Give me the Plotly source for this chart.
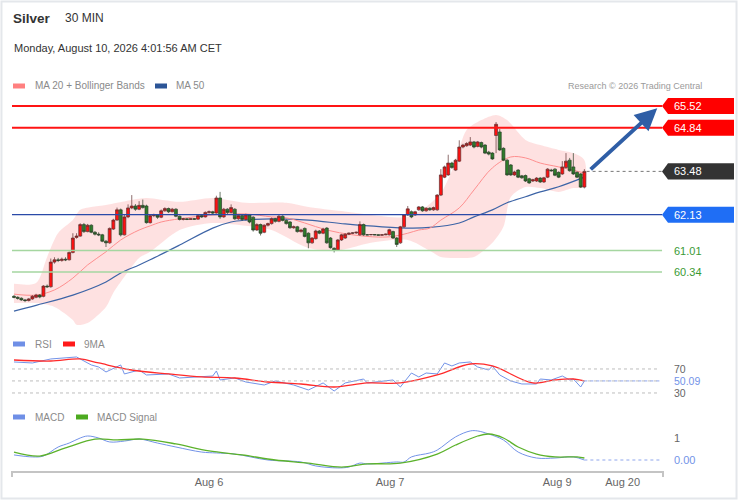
import plotly.graph_objects as go

W, H = 738, 500

# ---------------- podatki: 30-min svece (indeks 0..155) ----------------
open_ = [59.58, 59.55, 59.52, 59.47, 59.45, 59.50, 59.55, 59.62, 59.58, 59.90,
         59.88, 60.65, 60.72, 60.70, 60.74, 60.72, 60.95, 61.42, 61.46, 61.82,
         61.60, 61.80, 61.58, 61.52, 61.50, 61.30, 61.25, 61.68, 61.96, 62.28,
         61.50, 62.06, 62.34, 62.40, 62.30, 62.42, 62.40, 61.88, 62.10, 62.12,
         62.05, 62.25, 62.32, 62.22, 62.30, 62.08, 61.98, 62.00, 61.98, 62.00,
         61.99, 62.10, 62.06, 62.20, 62.22, 62.18, 62.65, 62.06, 62.30, 62.20,
         62.30, 62.00, 62.10, 61.98, 62.12, 62.05, 61.65, 61.82, 61.58, 61.80,
         61.85, 62.00, 61.92, 62.08, 61.95, 61.90, 61.72, 61.75, 61.60, 61.70,
         61.55, 61.25, 61.38, 61.62, 61.55, 61.71, 61.40, 61.08, 61.03, 61.34,
         61.40, 61.52, 61.55, 61.56, 61.50, 61.82, 61.50, 61.50, 61.51, 61.50,
         61.49, 61.50, 61.50, 61.60, 61.40, 61.25, 61.75, 62.12, 62.22, 62.12,
         62.28, 62.37, 62.25, 62.33, 62.28, 62.28, 62.74, 63.30, 63.37, 63.74,
         63.52, 63.80, 64.24, 64.28, 64.30, 64.40, 64.26, 64.38, 64.30, 64.08,
         64.05, 64.60, 64.71, 64.20, 63.83, 63.68, 63.37, 63.52, 63.34, 63.35,
         63.25, 63.18, 63.18, 63.27, 63.15, 63.30, 63.52, 63.55, 63.45, 63.40,
         63.60, 63.83, 63.62, 63.45, 63.40, 62.99]
high = [59.62, 59.58, 59.55, 59.50, 59.53, 59.62, 59.66, 59.65, 59.93, 59.95,
        60.76, 60.80, 60.78, 60.79, 60.80, 60.98, 61.55, 61.55, 61.86, 61.87,
        61.84, 61.83, 61.62, 61.58, 61.53, 61.34, 61.73, 62.00, 62.35, 62.32,
        62.15, 62.45, 62.74, 62.46, 62.55, 62.60, 62.44, 62.14, 62.16, 62.15,
        62.29, 62.36, 62.35, 62.34, 62.33, 62.10, 62.03, 62.02, 62.01, 62.02,
        62.13, 62.14, 62.23, 62.26, 62.25, 62.72, 62.84, 62.34, 62.33, 62.45,
        62.33, 62.14, 62.13, 62.16, 62.15, 62.08, 61.86, 61.85, 61.83, 61.88,
        62.04, 62.03, 62.12, 62.11, 61.98, 61.93, 61.79, 61.78, 61.69, 61.73,
        61.58, 61.43, 61.66, 61.65, 61.72, 61.74, 61.43, 61.11, 61.37, 61.53,
        61.55, 61.57, 61.58, 61.60, 61.92, 61.85, 61.52, 61.52, 61.52, 61.51,
        61.52, 61.54, 61.69, 61.63, 61.43, 61.78, 62.15, 62.40, 62.26, 62.25,
        62.40, 62.40, 62.36, 62.36, 62.38, 62.77, 63.55, 63.66, 64.00, 63.78,
        63.87, 64.45, 64.34, 64.39, 64.55, 64.43, 64.43, 64.41, 64.33, 64.12,
        64.08, 65.02, 64.80, 64.23, 63.86, 63.71, 63.50, 63.55, 63.37, 63.38,
        63.28, 63.25, 63.30, 63.30, 63.31, 63.58, 63.56, 63.58, 63.48, 63.80,
        64.05, 63.90, 64.05, 63.48, 63.43, 63.55]
low = [59.52, 59.48, 59.44, 59.40, 59.42, 59.47, 59.52, 59.52, 59.55, 59.84,
       59.85, 60.60, 60.65, 60.66, 60.68, 60.70, 60.92, 61.38, 61.44, 61.56,
       61.58, 61.55, 61.48, 61.46, 61.27, 61.12, 61.22, 61.65, 61.94, 61.45,
       61.48, 62.02, 62.30, 62.25, 62.27, 62.32, 61.85, 61.85, 62.05, 62.00,
       62.02, 62.22, 62.18, 62.20, 62.05, 61.95, 61.95, 61.96, 61.97, 61.97,
       61.97, 62.03, 62.04, 62.16, 62.14, 62.16, 62.00, 62.03, 62.15, 62.17,
       61.97, 61.97, 61.94, 61.95, 61.86, 61.60, 61.62, 61.48, 61.55, 61.76,
       61.82, 61.88, 61.89, 61.92, 61.82, 61.69, 61.69, 61.57, 61.57, 61.42,
       61.08, 61.22, 61.35, 61.52, 61.52, 61.22, 61.07, 60.95, 61.00, 61.31,
       61.37, 61.49, 61.52, 61.53, 61.47, 61.47, 61.49, 61.49, 61.49, 61.48,
       61.48, 61.49, 61.48, 61.37, 61.12, 61.22, 61.72, 62.09, 62.02, 62.09,
       62.25, 62.22, 62.22, 62.25, 62.25, 62.25, 62.71, 63.27, 63.34, 63.56,
       63.49, 63.77, 64.20, 64.25, 64.27, 64.20, 64.23, 64.20, 64.02, 63.98,
       63.84, 64.05, 64.12, 63.80, 63.34, 63.34, 63.34, 63.27, 63.25, 63.15,
       63.09, 63.15, 63.15, 63.12, 63.12, 63.27, 63.47, 63.33, 63.27, 63.37,
       63.57, 63.47, 63.37, 63.27, 62.96, 62.95]
close = [59.55, 59.52, 59.47, 59.45, 59.50, 59.58, 59.62, 59.56, 59.90, 59.88,
         60.65, 60.72, 60.70, 60.74, 60.72, 60.95, 61.40, 61.46, 61.82, 61.60,
         61.80, 61.58, 61.52, 61.50, 61.30, 61.25, 61.70, 61.96, 62.28, 61.50,
         62.06, 62.34, 62.40, 62.30, 62.42, 62.35, 61.88, 62.10, 62.12, 62.05,
         62.25, 62.32, 62.22, 62.30, 62.08, 61.98, 62.00, 61.98, 62.00, 61.99,
         62.10, 62.06, 62.20, 62.22, 62.18, 62.65, 62.06, 62.30, 62.20, 62.35,
         62.00, 62.10, 61.98, 62.12, 61.90, 61.65, 61.82, 61.55, 61.80, 61.85,
         62.00, 61.92, 62.08, 61.95, 61.85, 61.72, 61.75, 61.60, 61.65, 61.45,
         61.25, 61.40, 61.62, 61.55, 61.68, 61.25, 61.10, 61.02, 61.34, 61.50,
         61.52, 61.55, 61.56, 61.58, 61.82, 61.50, 61.50, 61.51, 61.50, 61.49,
         61.50, 61.52, 61.66, 61.40, 61.20, 61.75, 62.12, 62.31, 62.06, 62.22,
         62.37, 62.25, 62.33, 62.28, 62.35, 62.74, 63.37, 63.62, 63.74, 63.60,
         63.83, 64.24, 64.30, 64.35, 64.40, 64.24, 64.40, 64.24, 64.05, 64.02,
         63.87, 64.95, 64.15, 63.83, 63.37, 63.37, 63.46, 63.30, 63.28, 63.18,
         63.12, 63.22, 63.27, 63.15, 63.28, 63.55, 63.50, 63.36, 63.30, 63.62,
         63.80, 63.50, 63.40, 63.30, 62.99, 63.48]
candle_idx = list(range(len(close)))

# drseci povprecji in Bollinger (odcitano na vzorcnih svecah)
ma20_idx = [0, 6, 11, 16, 20, 25, 29, 34, 37, 40, 45, 54, 63, 70, 74, 79, 85, 92,
            99, 103, 107, 110, 113, 116, 121, 125, 130, 135, 139, 143, 148, 155]
ma20 = [59.65, 59.62, 59.78, 60.15, 60.56, 60.97, 61.34, 61.65, 61.78, 61.90, 62.00,
        62.12, 62.15, 62.06, 62.03, 61.87, 61.65, 61.50, 61.43, 61.45, 61.55, 61.65,
        61.71, 61.96, 62.34, 62.90, 63.59, 63.93, 63.90, 63.74, 63.62, 63.43]
ma50_idx = [0, 6, 16, 25, 29, 34, 37, 45, 54, 59, 63, 70, 80, 90, 100, 108, 113,
            121, 125, 130, 134, 139, 143, 148, 155]
ma50 = [59.12, 59.30, 59.62, 60.03, 60.31, 60.56, 60.72, 61.18, 61.71, 61.90, 61.96,
        62.00, 61.96, 61.84, 61.75, 61.71, 61.73, 61.87, 62.06, 62.28, 62.50, 62.69,
        62.84, 63.00, 63.30]
bb_up_idx = [0, 6, 9, 12, 16, 18, 21, 25, 28, 32, 36, 45, 54, 63, 74, 80, 89, 97,
             107, 112, 116, 119, 121, 123, 127, 131, 134, 139, 143, 148, 152, 155]
bb_up = [59.97, 60.00, 60.81, 61.56, 61.96, 62.28, 62.37, 62.43, 62.50, 62.59, 62.65,
         62.53, 62.65, 62.50, 62.50, 62.37, 62.24, 62.12, 62.06, 62.37, 62.81, 63.50,
         64.20, 64.77, 65.08, 65.24, 65.08, 64.46, 64.30, 64.15, 64.05, 63.83]
bb_lo_idx = [0, 6, 11, 16, 17, 20, 25, 27, 30, 34, 37, 45, 54, 63, 70, 80, 89, 97,
             107, 113, 116, 121, 125, 130, 133, 135, 139, 143, 148, 152, 155]
bb_lo = [59.37, 59.37, 59.25, 58.84, 58.69, 58.75, 59.25, 59.69, 60.19, 60.78, 60.97,
         61.65, 61.87, 61.78, 61.65, 61.09, 61.03, 61.25, 61.34, 61.00, 60.81, 60.78,
         60.81, 61.25, 61.75, 62.68, 62.99, 62.96, 62.84, 62.96, 62.99]

# RSI in 9MA
rsi_idx = [0, 5, 10, 17, 21, 23, 25, 29, 30, 34, 36, 42, 45, 51, 54, 55, 56, 60, 63,
           68, 71, 76, 80, 84, 87, 90, 95, 96, 103, 105, 108, 110, 112, 115, 117, 119,
           121, 124, 126, 129, 130, 132, 135, 138, 142, 143, 146, 149, 151, 152, 154, 155]
rsi = [81.7, 80.0, 86.7, 90.0, 76.7, 73.3, 65.0, 76.7, 61.7, 68.3, 60.0, 61.7, 55.0,
       56.7, 58.3, 66.7, 51.7, 55.0, 48.3, 43.3, 50.0, 43.3, 35.0, 46.7, 33.3, 46.7,
       53.3, 46.7, 51.7, 40.0, 63.3, 56.7, 63.3, 61.7, 80.0, 75.0, 80.0, 81.7, 73.3,
       68.3, 75.0, 60.0, 50.0, 45.0, 45.0, 53.3, 51.7, 58.3, 51.7, 53.3, 40.0, 50.09]
rsi_ma_idx = [0, 10, 18, 23, 32, 42, 51, 60, 69, 78, 87, 96, 105, 115, 124, 130,
              141, 147, 152, 155]
rsi_ma = [85.0, 83.3, 86.7, 80.0, 68.3, 61.7, 56.7, 55.0, 48.3, 45.0, 40.0, 46.7,
          46.7, 60.0, 78.3, 75.0, 46.7, 51.7, 53.3, 50.0]

# MACD in signal
macd_idx = [0, 5, 8, 12, 15, 18, 20, 23, 26, 30, 34, 39, 44, 51, 55, 60, 69, 78, 82,
            88, 91, 94, 96, 104, 106, 108, 113, 115, 120, 124, 126, 129, 133, 137, 142,
            147, 152, 155]
macd = [0.23, 0.14, 0.18, 0.59, 0.77, 1.00, 1.09, 1.00, 0.82, 0.86, 0.95, 0.77, 0.59,
        0.36, 0.32, 0.27, 0.00, -0.09, -0.27, -0.36, -0.32, -0.14, -0.18, -0.09, -0.09,
        0.14, 0.32, 0.45, 1.05, 1.32, 1.32, 1.18, 0.91, 0.36, 0.09, 0.09, 0.14, 0.00]
sig_idx = [0, 7, 14, 22, 28, 35, 44, 53, 62, 71, 80, 89, 96, 105, 115, 120, 126, 129,
           133, 137, 142, 147, 153, 155]
sig = [0.36, 0.18, 0.55, 0.95, 0.91, 0.95, 0.73, 0.41, 0.23, 0.00, -0.14, -0.32, -0.18,
       -0.14, 0.27, 0.68, 1.09, 1.18, 1.00, 0.59, 0.27, 0.14, 0.14, 0.09]

# nivoji
resist = [65.52, 64.84]
pivot = 62.13
support = [61.01, 60.34]
last_price = 63.48
target_from = (156.3, 63.5)
target_to = (174.8, 65.45)
rsi_lines = [70, 30]
rsi_last = 50.09
macd_mark = 1
macd_last = 0.00

tick_idx = [53, 102.2, 147.6, 165.4]
tick_txt = ["Aug 6", "Aug 7", "Aug 9", "Aug 20"]


def px(x):
    return x / W


def py(y):
    return 1 - y / H


FONT = "Liberation Sans, Arial, sans-serif"
X_LEFT, X_END, X_LINE = -0.54, 176.36, 176.1
PRICE_RANGE = [58.53, 65.77]

fig = go.Figure()

# bollinger pas
fig.add_trace(go.Scatter(
    x=bb_up_idx + bb_lo_idx[::-1], y=bb_up + bb_lo[::-1],
    fill="toself", fillcolor="rgba(253,205,205,0.6)",
    line=dict(width=0, shape="spline", smoothing=0.8), hoverinfo="skip"
))
fig.add_trace(go.Scatter(x=ma50_idx, y=ma50, mode="lines",
                         line=dict(color="#3d64a6", width=1.2, shape="spline")))
fig.add_trace(go.Scatter(x=ma20_idx, y=ma20, mode="lines",
                         line=dict(color="#ff8f8f", width=1, shape="spline")))

# svece (rdece = rast, zelene = padec) - na prekrivni osi, da so nad pasom
fig.add_trace(go.Candlestick(
    x=candle_idx, open=open_, high=high, low=low, close=close, yaxis="y4",
    increasing=dict(fillcolor="#ff1010", line=dict(color="#5e3030", width=0.7)),
    decreasing=dict(fillcolor="#2e7d2a", line=dict(color="#2b3f29", width=0.7)),
    whiskerwidth=0
))

# RSI
fig.add_trace(go.Scatter(x=rsi_idx, y=rsi, mode="lines", yaxis="y2",
                         line=dict(color="#7393e8", width=1)))
fig.add_trace(go.Scatter(x=rsi_ma_idx, y=rsi_ma, mode="lines", yaxis="y2",
                         line=dict(color="#ff2a2a", width=1.3, shape="spline")))

# MACD
fig.add_trace(go.Scatter(x=macd_idx, y=macd, mode="lines", yaxis="y3",
                         line=dict(color="#7393e8", width=1, shape="spline")))
fig.add_trace(go.Scatter(x=sig_idx, y=sig, mode="lines", yaxis="y3",
                         line=dict(color="#5cb22b", width=1.3, shape="spline")))

shapes = []
ann = []


def text(x, y, s, size=11, color="#666", anchor="left", yref="paper"):
    ann.append(dict(x=x, y=y, xref="paper", yref=yref, text=s, showarrow=False,
                    xanchor=anchor, yanchor="middle", font=dict(color=color, size=size)))


# horizontalne crte
for v in resist:
    shapes.append(dict(type="line", xref="x", yref="y", x0=X_LEFT, x1=X_LINE, y0=v, y1=v,
                       line=dict(color="#ff1414", width=2)))
shapes.append(dict(type="line", xref="x", yref="y", x0=X_LEFT, x1=X_LINE, y0=pivot, y1=pivot,
                   line=dict(color="#2a4aa8", width=1.2)))
for v in support:
    shapes.append(dict(type="line", xref="x", yref="y", x0=X_LEFT, x1=X_LINE, y0=v, y1=v,
                       line=dict(color="#a5d6a0", width=1.5)))
shapes.append(dict(type="line", xref="x", yref="y", x0=candle_idx[-1] + 0.6, x1=X_LINE,
                   y0=last_price, y1=last_price, line=dict(color="#777", width=1, dash="dot")))

# oznake cen z zasiljenim robom
hh = 0.25
tip, xl, xr = px(662), px(668), px(734)
box_items = [(resist[0], "#ff0000"), (resist[1], "#ff0000"),
             (last_price, "#333333"), (pivot, "#1f6ef5")]
for v, col in box_items:
    shapes.append(dict(type="path", xref="paper", yref="y", fillcolor=col, line=dict(width=0),
                       path=f"M {tip},{v} L {xl},{v + hh} L {xr},{v + hh} L {xr},{v - hh} L {xl},{v - hh} Z"))
    text(px(672), v, f"{v:.2f}", color="white", yref="y")
for v in support:
    text(px(672), v, f"{v:.2f}", color="#3a9a34", yref="y")

# puscica proti cilju
ann.append(dict(x=target_to[0], y=target_to[1], ax=target_from[0], ay=target_from[1],
                xref="x", yref="y", axref="x", ayref="y", text="", showarrow=True,
                arrowhead=2, arrowsize=1.1, arrowwidth=4, arrowcolor="#2f5ea6"))

# RSI crte
for v in rsi_lines + [rsi_last]:
    shapes.append(dict(type="line", xref="x", yref="y2", x0=X_LEFT, x1=175.5, y0=v, y1=v,
                       line=dict(color="#bdbdbd", width=1, dash="dot")))
for v in rsi_lines:
    text(px(672), v, f"{v:g}", size=10.5, yref="y2")
text(px(672), rsi_last, f"{rsi_last:.2f}", size=10.5, color="#7393e8", yref="y2")
shapes.append(dict(type="line", xref="x", yref="y2", x0=rsi_idx[-1], x1=175.5, y0=rsi_last, y1=rsi_last,
                   line=dict(color="#8fa6ec", width=1, dash="dot")))

# MACD oznake
shapes.append(dict(type="line", xref="x", yref="y3", x0=macd_idx[-1], x1=175.5, y0=macd_last, y1=macd_last,
                   line=dict(color="#8fa6ec", width=1, dash="dot")))
text(px(672), macd_mark, str(macd_mark), yref="y3")
text(px(672), macd_last, f"{macd_last:.2f}", color="#7393e8", yref="y3")

# konci x osi
for xe in (0, 1):
    shapes.append(dict(type="line", xref="x domain", yref="paper", x0=xe, x1=xe,
                       y0=py(471), y1=py(477), line=dict(color="#c4c4c4", width=2)))

# legende (ploscice + tekst)
legend_items = [
    (13, 86, "#ff8080", 33, "MA 20 + Bollinger Bands"),
    (155, 86, "#2c5597", 174, "MA 50"),
    (13, 344, "#6f8fe6", 33, "RSI"),
    (63, 344, "#ff1a1a", 82, "9MA"),
    (13, 417, "#6f8fe6", 33, "MACD"),
    (76, 417, "#4caa1f", 95, "MACD Signal"),
]
for sx, sy, col, tx, label in legend_items:
    shapes.append(dict(type="rect", xref="paper", yref="paper", x0=px(sx), x1=px(sx + 12),
                       y0=py(sy + 2.5), y1=py(sy - 2.5), fillcolor=col, line=dict(width=0)))
    text(px(tx), py(sy), label, size=10, color="#8a8a8a")

# naslovi
text(px(11), py(18), "<b>Silver</b>", size=13.5, color="#333")
text(px(63), py(18), "30 MIN", size=12, color="#333")
text(px(12), py(48), "Monday, August 10, 2026 4:01:56 AM CET", size=11, color="#333")
text(px(704), py(86), "Research © 2026 Trading Central", size=9, color="#9a9a9a", anchor="right")

# okvir
shapes.append(dict(type="rect", xref="paper", yref="paper", x0=0.002, x1=0.998, y0=0.003, y1=0.997,
                   line=dict(color="#e4e7eb", width=2)))

fig.update_layout(
    width=W, height=H,
    margin=dict(l=0, r=0, t=0, b=0),
    paper_bgcolor="white", plot_bgcolor="white",
    showlegend=False, boxgap=0.2, boxgroupgap=0,
    font=dict(family=FONT, size=12, color="#333"),
    shapes=shapes, annotations=ann,
    xaxis=dict(domain=[px(12), px(663)], range=[X_LEFT, X_END], anchor="y3",
               rangeslider=dict(visible=False), showgrid=False, zeroline=False,
               showline=True, linecolor="#c4c4c4", linewidth=2,
               tickvals=tick_idx, ticktext=tick_txt, ticks="",
               tickfont=dict(size=11, color="#666")),
    yaxis=dict(domain=[py(330), py(98)], range=PRICE_RANGE, anchor="x", visible=False),
    yaxis4=dict(overlaying="y", range=PRICE_RANGE, anchor="x", visible=False),
    yaxis2=dict(domain=[py(400), py(352)], range=[18.3, 98.3], anchor="x", visible=False),
    yaxis3=dict(domain=[py(471), py(425)], range=[-0.5, 1.59], anchor="x", visible=False),
)

fig.write_html("out.html", config={"displayModeBar": False},
               post_script="document.body.style.margin='0';")
